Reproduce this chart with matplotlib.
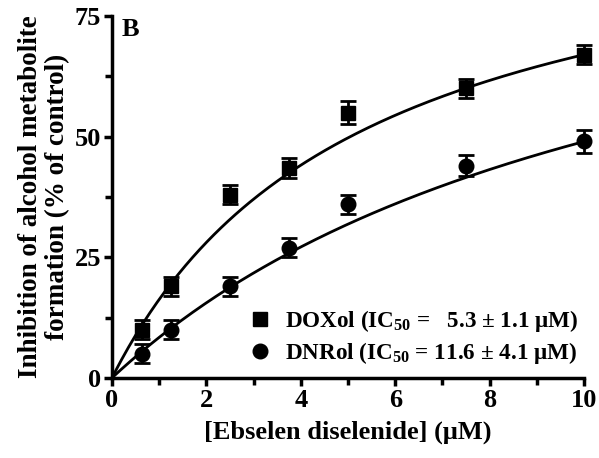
import numpy as np
import matplotlib
matplotlib.use("Agg")
import matplotlib.pyplot as plt
from matplotlib.ticker import MultipleLocator

plt.rcParams['font.family'] = ['Liberation Serif', 'DejaVu Serif']
plt.rcParams['font.weight'] = 'bold'
plt.rcParams['mathtext.fontset'] = 'custom'
plt.rcParams['mathtext.rm'] = 'Liberation Serif:bold'
plt.rcParams['mathtext.bf'] = 'Liberation Serif:bold'
plt.rcParams['mathtext.default'] = 'rm'

# data
conc = [0.625, 1.25, 2.5, 3.75, 5.0, 7.5, 10.0]
doxol = [10, 19, 38, 43.5, 55, 60, 67]
doxol_err = [2, 2, 2, 2, 2.3, 2, 2]
dnrol = [5, 10, 19, 27, 36, 44, 49]
dnrol_err = [2, 2, 2, 2, 2, 2.2, 2.3]

# hyperbolic fit parameters (Imax, IC50)
dox_fit = (102.5, 5.3)
dnr_fit = (105.8, 11.6)

fig = plt.figure(figsize=(5.99, 4.58), dpi=100)
ax = fig.add_axes([0.187, 0.175, 0.788, 0.79])

xx = np.linspace(0, 10, 200)
ax.plot(xx, dox_fit[0] * xx / (dox_fit[1] + xx), color='black', lw=2)
ax.plot(xx, dnr_fit[0] * xx / (dnr_fit[1] + xx), color='black', lw=2)

ax.errorbar(conc, doxol, yerr=doxol_err, fmt='s', color='black', ms=9.5,
            capsize=6, capthick=2, elinewidth=2, clip_on=False,
            label='DOXol (IC$_{50}$ =   5.3 ± 1.1 μM)')
ax.errorbar(conc, dnrol, yerr=dnrol_err, fmt='o', color='black', ms=10.5,
            capsize=6, capthick=2, elinewidth=2, clip_on=False,
            label='DNRol (IC$_{50}$ = 11.6 ± 4.1 μM)')

ax.set_xlim(0, 10)
ax.set_ylim(0, 75)
ax.xaxis.set_major_locator(MultipleLocator(2))
ax.xaxis.set_minor_locator(MultipleLocator(1))
ax.yaxis.set_major_locator(MultipleLocator(25))
ax.yaxis.set_minor_locator(MultipleLocator(12.5))

for s in ['top', 'right']:
    ax.spines[s].set_visible(False)
for s in ['left', 'bottom']:
    ax.spines[s].set_linewidth(2.5)
ax.tick_params(which='major', length=6, width=2.5, labelsize=19, pad=2)
ax.tick_params(which='minor', length=5, width=2.5)

ax.set_xlabel('[Ebselen diselenide] (μM)', fontsize=19, fontweight='bold', labelpad=6)
ax.set_ylabel('Inhibition of alcohol metabolite\nformation (% of control)',
              fontsize=19.5, fontweight='bold', linespacing=1.12, labelpad=3)

ax.text(0.2, 74.5, 'B', fontsize=19, fontweight='bold', va='top', ha='left')

handles, labels = ax.get_legend_handles_labels()
handles = [h[0] for h in handles]
ax.legend(handles, labels, loc='lower right', bbox_to_anchor=(1.013, 0.0),
          frameon=False, handletextpad=0.6, handlelength=1.0, borderaxespad=0.1,
          labelspacing=0.25, prop={'weight': 'bold', 'size': 16.7})

fig.savefig('out.png', dpi=100)
